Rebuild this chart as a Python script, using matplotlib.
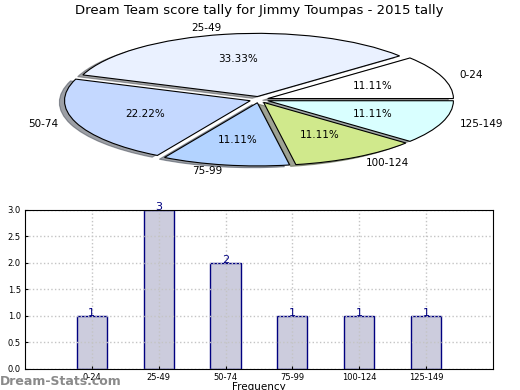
import numpy as np
import matplotlib
matplotlib.use('Agg')
import matplotlib.pyplot as plt

# Data
CATEGORIES = ['0-24', '25-49', '50-74', '75-99', '100-124', '125-149']
COUNTS = [1, 3, 2, 1, 1, 1]
PIE_COLORS = ['#ffffff', '#eaf1ff', '#c4d8ff', '#b3d3ff', '#d0e98c', '#d9ffff']
EXPLODE = [0.05, 0.05, 0.05, 0.05, 0.05, 0.05]
TITLE = 'Dream Team score tally for Jimmy Toumpas - 2015 tally'


def main():
    fig = plt.figure(figsize=(5.2, 3.9), dpi=100)

    # Pie (not equal aspect, so it's squashed into an ellipse)
    ax1 = fig.add_axes([0.048, 0.542, 0.9, 0.405])
    wedges, texts, autotexts = ax1.pie(
        COUNTS, labels=CATEGORIES, colors=PIE_COLORS, explode=EXPLODE,
        autopct='%1.2f%%', shadow=True, startangle=0,
        wedgeprops={'linewidth': 0.8, 'edgecolor': 'black'},
        textprops={'fontsize': 7.5})
    ax1.set_aspect('auto')
    ax1.set_xlim(-1.26, 1.26)
    ax1.set_ylim(-1.25, 1.25)
    ax1.set_title(TITLE, fontsize=9.5, pad=5)

    # Bar chart
    ax2 = fig.add_axes([0.048, 0.054, 0.9, 0.408])
    x = np.arange(1, len(CATEGORIES) + 1)
    bars = ax2.bar(x, COUNTS, width=0.45, color='#ccccdd',
                   edgecolor='navy', linewidth=1, zorder=1)
    for b, v in zip(bars, COUNTS):
        ax2.text(b.get_x() + b.get_width() / 2, v + 0.05, str(v),
                 ha='center', va='center', color='navy', fontsize=8)
    ax2.set_xlim(0, 7)
    ax2.set_ylim(0, 3)
    ax2.set_xticks(x)
    ax2.set_xticklabels(CATEGORIES)
    ax2.set_yticks(np.arange(0, 3.01, 0.5))
    ax2.tick_params(labelsize=6, length=2, direction='in', pad=3)
    ax2.grid(True, linestyle=':', color='#c4c4c4', linewidth=1, zorder=2)
    ax2.set_axisbelow(False)
    for sp in ax2.spines.values():
        sp.set_zorder(4)
    ax2.set_ylabel('Stat intervals', fontsize=7.5, labelpad=3)
    ax2.set_xlabel('Frequency', fontsize=7.5, labelpad=0)

    fig.text(0.0, 0.004, 'Dream-Stats.com', fontsize=9, color='#8a8a8a',
             fontweight='semibold', ha='left', va='bottom')

    fig.savefig('out.png', dpi=100)


if __name__ == '__main__':
    main()
